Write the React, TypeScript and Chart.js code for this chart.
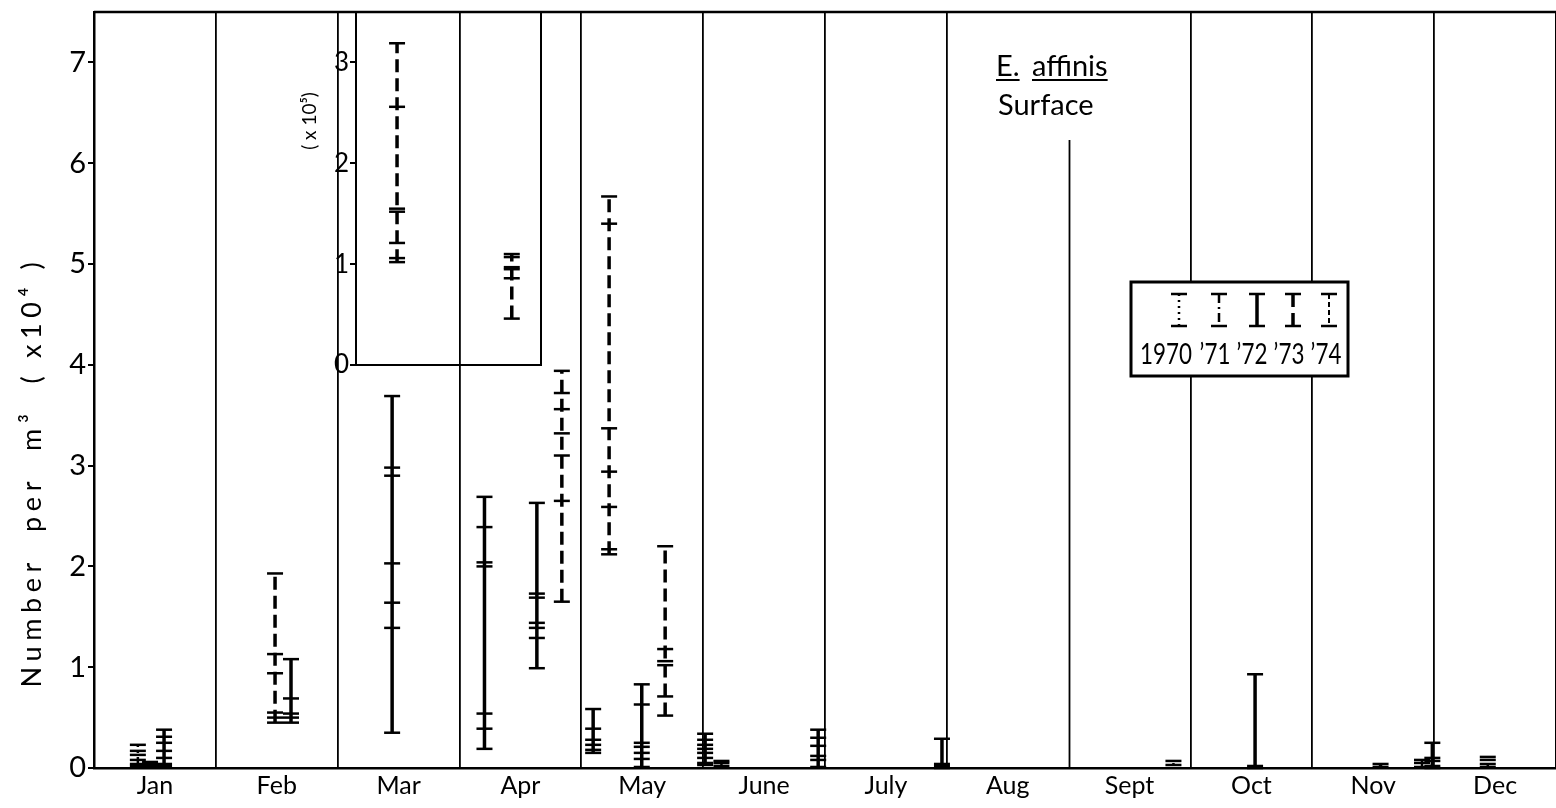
import React, { useEffect, useRef } from 'react';
import { Chart, registerables } from 'chart.js';

Chart.register(...registerables);

// ---------- DATA ----------
const MONTHS = ['Jan', 'Feb', 'Mar', 'Apr', 'May', 'June', 'July', 'Aug', 'Sept', 'Oct', 'Nov', 'Dec'];
const YEARS = ['1970', '’71', '’72', '’73', '’74'];
const Y_TICKS = [0, 1, 2, 3, 4, 5, 6, 7];          // Number per m³ (×10⁴)
const INSET_Y_TICKS = [0, 1, 2, 3];                // (×10⁵)

// x = month index + fraction of the month (sampling position); v = sample values (×10⁴ per m³)
const bars1970 = [
  { x: 8.86, v: [0.07, 0.03] },
  { x: 11.44, v: [0.11, 0.08, 0.04, 0.01] },
];
const bars1971 = [
  { x: 0.36, v: [0.23, 0.17, 0.13, 0.08, 0.04, 0.02] },
  { x: 5.15, v: [0.07, 0.05, 0.02] },
  { x: 10.9, v: [0.08, 0.05, 0.01] },
];
const bars1972 = [
  { x: 0.575, v: [0.38, 0.31, 0.25, 0.17, 0.1, 0.04, 0.02] },
  { x: 1.617, v: [1.08, 0.69, 0.54, 0.5, 0.45] },
  { x: 2.447, v: [3.69, 2.98, 2.9, 2.03, 1.64, 1.39, 0.35] },
  { x: 3.205, v: [2.69, 2.39, 2.04, 2.0, 0.54, 0.39, 0.19] },
  { x: 3.635, v: [2.63, 1.73, 1.69, 1.44, 1.39, 1.29, 0.99] },
  { x: 4.097, v: [0.585, 0.39, 0.28, 0.23, 0.18, 0.15] },
  { x: 4.496, v: [0.83, 0.63, 0.25, 0.21, 0.15, 0.09, 0.01] },
  { x: 5.016, v: [0.34, 0.28, 0.23, 0.19, 0.15, 0.1, 0.05, 0.03] },
  { x: 5.944, v: [0.38, 0.3, 0.22, 0.12, 0.08, 0.01] },
  { x: 6.96, v: [0.29, 0.04, 0.02, 0.0] },
  { x: 9.53, v: [0.93, 0.02, 0.0] },
  { x: 10.56, v: [0.04, 0.01] },
  { x: 10.985, v: [0.25, 0.1, 0.07, 0.02, 0.0] },
];
const bars1973 = [
  { x: 1.486, v: [1.93, 1.13, 0.94, 0.55, 0.5, 0.45] },
  { x: 3.84, v: [3.94, 3.72, 3.56, 3.32, 3.1, 2.65, 1.65] },
  { x: 4.228, v: [5.67, 5.4, 3.37, 2.94, 2.59, 2.17, 2.12] },
  { x: 4.688, v: [2.2, 1.18, 1.06, 1.02, 0.71, 0.52] },
];
const bars1974 = [
  { x: 0.46, v: [0.06, 0.04, 0.02] },
];
// inset panel, ×10⁵ per m³
const inset1973 = [
  { x: 2.488, v: [3.19, 2.56, 1.55, 1.52, 1.21, 1.06, 1.02] },
  { x: 3.43, v: [1.1, 1.07, 0.97, 0.95, 0.86, 0.46] },
];

// ---------- STYLE ----------
const FONT = 'Lato, "DejaVu Sans", sans-serif';
const STYLE: Record<string, { dash: number[]; width: number }> = {
  '1970': { dash: [2, 4], width: 2.5 },
  '’71': { dash: [9, 4, 2, 4], width: 2.5 },
  '’72': { dash: [], width: 3.5 },
  '’73': { dash: [13, 6], width: 3.5 },
  '’74': { dash: [5, 3], width: 2 },
};

function buildDatasets(groups: { bars: { x: number; v: number[] }[]; year: string }[]) {
  const ds: any[] = [];
  groups.forEach(({ bars, year }) => {
    const st = STYLE[year];
    bars.forEach((b) => {
      const lo = Math.min(...b.v);
      const hi = Math.max(...b.v);
      ds.push({
        type: 'scatter',
        data: [{ x: b.x, y: lo }, { x: b.x, y: hi }],
        showLine: true,
        borderColor: '#000',
        borderWidth: st.width,
        borderDash: st.dash,
        borderCapStyle: 'butt',
        pointRadius: 0,
        clip: false,
      });
      ds.push({
        type: 'scatter',
        data: b.v.map((y) => ({ x: b.x, y })),
        showLine: false,
        pointStyle: 'line',
        pointRadius: 8,
        pointBorderWidth: 2.5,
        pointBorderColor: '#000',
        pointBackgroundColor: '#000',
        clip: false,
      });
    });
  });
  return ds;
}

function condensedText(ctx: CanvasRenderingContext2D, text: string, cx: number, y: number, sx: number) {
  ctx.save();
  ctx.translate(cx, y);
  ctx.scale(sx, 1);
  ctx.textAlign = 'center';
  ctx.fillText(text, 0, 0);
  ctx.restore();
}

const mainDecor = {
  id: 'mainDecor',
  afterDraw(chart: any) {
    const { ctx, chartArea, scales } = chart;
    const xs = scales.x;
    const ys = scales.y;
    ctx.save();
    ctx.strokeStyle = '#000';
    ctx.fillStyle = '#000';
    // top frame line
    ctx.lineWidth = 2.5;
    ctx.beginPath();
    ctx.moveTo(chartArea.left, chartArea.top);
    ctx.lineTo(chartArea.right, chartArea.top);
    ctx.stroke();
    // Aug / Sept divider, partial (leader under "Surface")
    const xd = Math.round(xs.getPixelForValue(8)) + 0.5;
    ctx.lineWidth = 1.8;
    ctx.beginPath();
    ctx.moveTo(xd, ys.getPixelForValue(6.23));
    ctx.lineTo(xd, chartArea.bottom);
    ctx.stroke();
    // title texts
    ctx.font = `29px ${FONT}`;
    ctx.textBaseline = 'alphabetic';
    ctx.textAlign = 'left';
    const t1 = 'E.';
    const t2 = 'affinis';
    ctx.fillText(t1, 996, 76);
    ctx.fillText(t2, 1032, 76);
    ctx.lineWidth = 2;
    ctx.beginPath();
    ctx.moveTo(996, 80);
    ctx.lineTo(996 + ctx.measureText(t1).width, 80);
    ctx.moveTo(1032, 80);
    ctx.lineTo(1032 + ctx.measureText(t2).width, 80);
    ctx.stroke();
    ctx.fillText('Surface', 998, 115);

    // legend box
    const bx = 1131, by = 282, bw = 217, bh = 94;
    ctx.fillStyle = '#fff';
    ctx.fillRect(bx, by, bw, bh);
    ctx.lineWidth = 3;
    ctx.strokeRect(bx, by, bw, bh);
    ctx.fillStyle = '#000';
    const barX = [1179, 1219, 1257, 1293, 1329];
    const labX = [1166, 1215, 1252, 1289, 1326];
    YEARS.forEach((yr, i) => {
      const st = STYLE[yr];
      const x = barX[i];
      ctx.setLineDash(st.dash);
      ctx.lineWidth = st.width;
      ctx.beginPath();
      ctx.moveTo(x, 294);
      ctx.lineTo(x, 326);
      ctx.stroke();
      ctx.setLineDash([]);
      ctx.lineWidth = 2.5;
      ctx.beginPath();
      ctx.moveTo(x - 8, 294);
      ctx.lineTo(x + 8, 294);
      ctx.moveTo(x - 8, 326);
      ctx.lineTo(x + 8, 326);
      ctx.stroke();
      ctx.font = `28px ${FONT}`;
      condensedText(ctx, yr, labX[i], 364, 0.8);
    });

    // y-axis title
    ctx.save();
    ctx.translate(32, 472);
    ctx.rotate(-Math.PI / 2);
    ctx.font = `27px ${FONT}`;
    ctx.textAlign = 'center';
    ctx.textBaseline = 'middle';
    const title = 'Number  per  m³  ( x10⁴ )';
    if ('letterSpacing' in ctx) {
      const w0 = ctx.measureText(title).width;
      const ls = Math.max(0, (430 - w0) / title.length);
      (ctx as any).letterSpacing = `${ls.toFixed(1)}px`;
    }
    ctx.fillText(title, 0, 0);
    ctx.restore();
    ctx.restore();
  },
};

const insetDecor = {
  id: 'insetDecor',
  afterDraw(chart: any) {
    const { ctx, chartArea } = chart;
    ctx.save();
    ctx.strokeStyle = '#000';
    ctx.fillStyle = '#000';
    ctx.lineWidth = 2;
    ctx.beginPath();
    ctx.moveTo(chartArea.right, chartArea.top);
    ctx.lineTo(chartArea.right, chartArea.bottom);
    ctx.stroke();
    ctx.translate(20, 121);
    ctx.rotate(-Math.PI / 2);
    ctx.font = `19px ${FONT}`;
    ctx.textAlign = 'center';
    ctx.textBaseline = 'middle';
    ctx.fillText('( x 10⁵)', 0, 0);
    ctx.restore();
  },
};

export default function App() {
  const mainRef = useRef<HTMLCanvasElement>(null);
  const insetRef = useRef<HTMLCanvasElement>(null);

  useEffect(() => {
    const main = new Chart(mainRef.current as HTMLCanvasElement, {
      type: 'scatter',
      data: {
        datasets: buildDatasets([
          { bars: bars1970, year: '1970' },
          { bars: bars1971, year: '’71' },
          { bars: bars1972, year: '’72' },
          { bars: bars1973, year: '’73' },
          { bars: bars1974, year: '’74' },
        ]),
      },
      options: {
        responsive: false,
        animation: false,
        events: [],
        layout: { autoPadding: false, padding: { top: 12, right: 0, left: 0, bottom: 0 } },
        plugins: { legend: { display: false }, tooltip: { enabled: false } },
        scales: {
          x: {
            type: 'linear',
            min: 0,
            max: 12,
            afterBuildTicks: (s: any) => {
              s.ticks = MONTHS.map((_, i) => ({ value: i + 0.5 }));
            },
            afterFit: (s: any) => {
              s.height = 40;
              s.paddingLeft = 0;
              s.paddingRight = 0;
            },
            ticks: {
              callback: (_v: any, i: number) => MONTHS[i],
              font: { family: FONT, size: 25 },
              color: '#000',
              padding: 3,
              maxRotation: 0,
              autoSkip: false,
            },
            grid: {
              offset: true,
              drawTicks: false,
              color: (c: any) => (c.index === 0 || c.index === 8 || c.index === 12 ? 'rgba(0,0,0,0)' : '#000'),
              lineWidth: 1.8,
            },
            border: { display: true, color: '#000', width: 2.5 },
          },
          y: {
            type: 'linear',
            min: 0,
            max: 7.5,
            afterBuildTicks: (s: any) => {
              s.ticks = Y_TICKS.map((v) => ({ value: v }));
            },
            afterFit: (s: any) => {
              s.width = 94;
              s.paddingTop = 0;
              s.paddingBottom = 0;
            },
            ticks: { font: { family: FONT, size: 29 }, color: '#000', padding: 2 },
            grid: { drawOnChartArea: false, tickLength: 6, color: '#000', lineWidth: 2 },
            border: { display: true, color: '#000', width: 2.5 },
          },
        },
      } as any,
      plugins: [mainDecor],
    });

    const inset = new Chart(insetRef.current as HTMLCanvasElement, {
      type: 'scatter',
      data: { datasets: buildDatasets([{ bars: inset1973, year: '’73' }]) },
      options: {
        responsive: false,
        animation: false,
        events: [],
        layout: { autoPadding: false, padding: { top: 12, right: 9, left: 0, bottom: 0 } },
        plugins: { legend: { display: false }, tooltip: { enabled: false } },
        scales: {
          x: {
            type: 'linear',
            min: 2.151,
            max: 3.67,
            afterFit: (s: any) => {
              s.height = 15;
              s.paddingLeft = 0;
              s.paddingRight = 0;
            },
            ticks: { display: false },
            grid: { display: false },
            border: { display: true, color: '#000', width: 2 },
          },
          y: {
            type: 'linear',
            min: 0,
            max: 3.5,
            afterBuildTicks: (s: any) => {
              s.ticks = INSET_Y_TICKS.map((v) => ({ value: v }));
            },
            afterFit: (s: any) => {
              s.width = 66;
              s.paddingTop = 0;
              s.paddingBottom = 0;
            },
            ticks: { font: { family: FONT, size: 26 }, color: '#000', padding: 1 },
            grid: { drawOnChartArea: false, tickLength: 6, color: '#000', lineWidth: 2 },
            border: { display: true, color: '#000', width: 2 },
          },
        },
      } as any,
      plugins: [insetDecor],
    });

    return () => {
      main.destroy();
      inset.destroy();
    };
  }, []);

  return (
    <div style={{ position: 'absolute', left: 0, top: 0, width: 1556, height: 808, background: '#fff' }}>
      <canvas ref={mainRef} width={1556} height={808} style={{ position: 'absolute', left: 0, top: 0 }} />
      <canvas ref={insetRef} width={260} height={380} style={{ position: 'absolute', left: 290, top: 0 }} />
    </div>
  );
}
